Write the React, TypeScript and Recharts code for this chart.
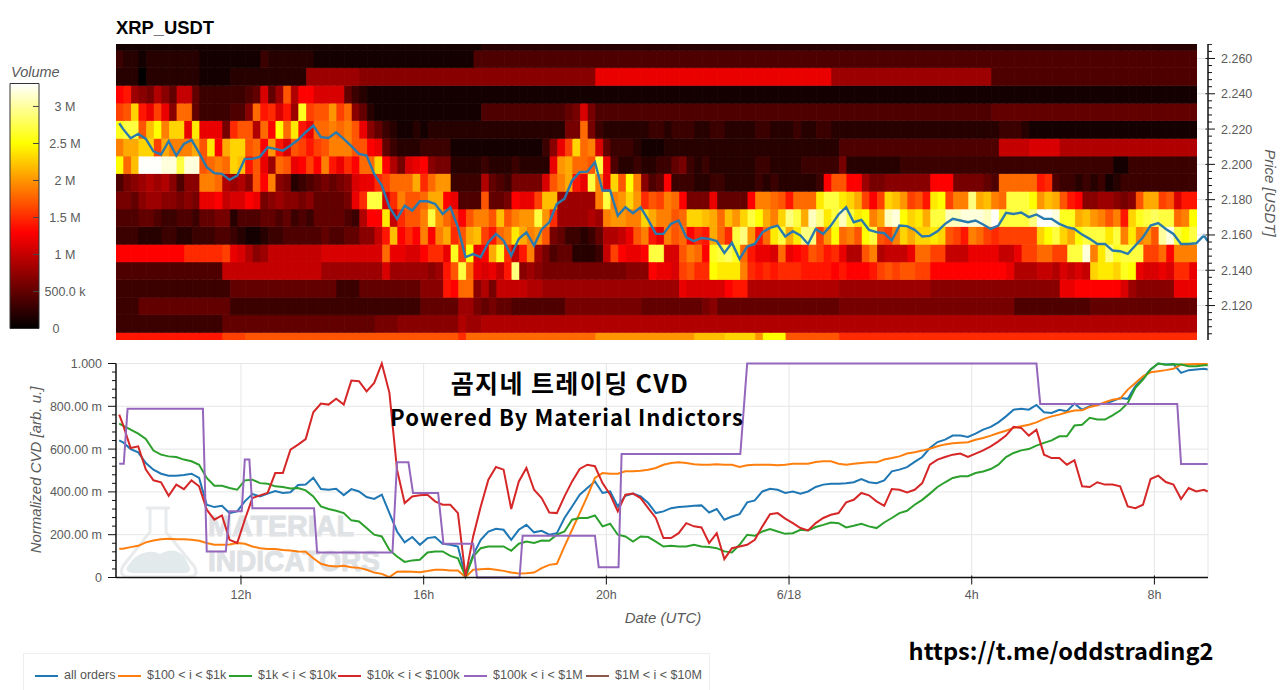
import { Bar, BarChart, CartesianGrid, Line, LineChart, XAxis, YAxis } from "recharts";

const AXIS_FONT = "'Liberation Sans', Arial, sans-serif";
const CJK_FONT = "'Noto Sans CJK KR', 'Noto Sans', sans-serif";
const AXIS_TEXT = "#5a5a5a";

// minutes since 00:00 on 6/17, grid of the CVD and price readings
const sampleTimes = [560, ...Array.from({ length: 143 }, (_, k) => 565 + k * 10), 1990];

const priceValues = [
  2.2233, 2.2201, 2.2148, 2.2173, 2.2144, 2.2074, 2.2056, 2.2131, 2.205, 2.2116, 2.2139, 2.2065, 2.1984, 2.195, 2.1946, 2.1912, 2.1936, 2.2031, 2.2031, 2.2044,
  2.2097, 2.2088, 2.2078, 2.2107, 2.2139, 2.2182, 2.222, 2.2154, 2.215, 2.2182, 2.2144, 2.2103, 2.2059, 2.205, 2.1946, 2.188, 2.1757, 2.1691, 2.1766, 2.1738,
  2.1791, 2.1791, 2.1776, 2.1719, 2.1757, 2.1644, 2.1474, 2.1492, 2.1474, 2.1559, 2.1606, 2.1568, 2.1483, 2.1578, 2.1615, 2.154, 2.1631, 2.1672, 2.1776, 2.1805,
  2.1909, 2.1956, 2.1959, 2.2012, 2.1852, 2.1852, 2.171, 2.1757, 2.1723, 2.1757, 2.1685, 2.1606, 2.1606, 2.1663, 2.1682, 2.1587, 2.1565, 2.1583, 2.1578, 2.1565,
  2.1498, 2.1555, 2.1464, 2.1534, 2.1549, 2.1615, 2.164, 2.1653, 2.1591, 2.1621, 2.1597, 2.1549, 2.1634, 2.1606, 2.1653, 2.1716, 2.1757, 2.1672, 2.1686, 2.1629,
  2.1616, 2.161, 2.1568, 2.1653, 2.165, 2.1629, 2.1591, 2.1595, 2.1621, 2.1663, 2.1691, 2.1682, 2.1672, 2.1682, 2.1659, 2.1634, 2.1653, 2.1725, 2.1719, 2.1727,
  2.1701, 2.1716, 2.1691, 2.1691, 2.1663, 2.1644, 2.1634, 2.1602, 2.1578, 2.1549, 2.1549, 2.1512, 2.1508, 2.1493, 2.154, 2.1587, 2.1653, 2.1667, 2.1634, 2.1606,
  2.1549, 2.1549, 2.1553, 2.1597, 2.1565,
];

const allOrders = [
  641, 632, 600, 585, 535, 504, 485, 476, 476, 479, 485, 465, 340, 329, 335, 301, 309, 356, 390, 379, 392, 404, 395, 398, 432, 435, 466, 413, 410, 415, 385, 413, 402, 376, 367, 387, 301, 215, 164, 189, 153, 184, 189,
  158, 153, 145, 5, 106, 176, 215, 228, 223, 176, 223, 246, 211, 218, 200, 207, 278, 332, 387, 418, 449, 395, 402, 332, 382, 392, 379, 348, 301, 309, 324, 329, 332, 335, 337, 304, 320, 270, 285, 296, 351, 360, 402, 415, 410, 395, 402, 392, 402, 423, 434, 438, 438,
  440, 445, 460, 445, 441, 454, 496, 504, 516, 540, 563, 605, 633, 644, 663, 663, 657, 672, 691, 704, 725, 753, 784, 789, 784, 806, 772, 769, 784, 777, 813, 784, 800, 808, 813, 824, 839, 835, 894, 933, 972, 1000, 995, 997, 956, 969, 972, 975, 972,
];
const orders100To1k = [
  134, 134, 142, 148, 164, 173, 179, 181, 179, 179, 176, 172, 161, 153, 153, 154, 161, 158, 145, 137, 133, 133, 129, 126, 122, 120, 90, 64, 55, 51, 55, 48, 45, 36, 23, 17, 2, 27, 28, 27, 25, 30, 36,
  36, 33, 33, 2, 36, 39, 41, 36, 31, 23, 19, 20, 23, 44, 59, 64, 145, 223, 301, 379, 465, 488, 485, 485, 496, 496, 499, 504, 512, 527, 535, 538, 535, 529, 527, 527, 529, 527, 527, 516, 524, 527, 527, 527, 524, 527, 532, 532, 532, 540, 543, 543, 532,
  527, 532, 535, 538, 538, 551, 558, 566, 579, 585, 593, 602, 613, 622, 627, 630, 632, 644, 652, 663, 675, 686, 699, 707, 714, 725, 741, 753, 761, 772, 780, 781, 797, 805, 819, 831, 836, 878, 909, 940, 959, 964, 969, 975, 995, 997, 998, 998, 998,
];
const orders1kTo10k = [
  719, 710, 691, 672, 647, 593, 574, 566, 563, 551, 543, 527, 465, 429, 429, 418, 410, 454, 457, 441, 438, 426, 423, 416, 418, 407, 379, 332, 320, 312, 301, 267, 262, 231, 200, 192, 129, 98, 73, 80, 83, 117, 122,
  122, 101, 90, 5, 98, 137, 145, 145, 145, 125, 158, 168, 161, 173, 172, 200, 215, 270, 278, 278, 290, 239, 251, 200, 192, 168, 192, 189, 168, 145, 148, 145, 145, 153, 145, 142, 137, 122, 117, 153, 200, 195, 215, 226, 215, 204, 207, 223, 220, 236, 246, 257, 254,
  234, 242, 251, 239, 231, 257, 278, 301, 312, 340, 363, 392, 423, 445, 465, 473, 473, 488, 495, 507, 527, 563, 582, 594, 600, 616, 629, 641, 660, 660, 710, 714, 746, 738, 738, 758, 780, 816, 886, 925, 972, 1000, 994, 997, 995, 987, 987, 992, 992,
];
const orders10kTo100k = [
  761, 714, 605, 613, 504, 454, 445, 382, 434, 413, 454, 426, 317, 270, 290, 176, 161, 270, 371, 384, 395, 488, 488, 597, 621, 647, 772, 813, 808, 835, 808, 920, 917, 870, 909, 1000, 863, 504, 348, 379, 384, 387, 356,
  340, 340, 301, 5, 192, 332, 457, 516, 504, 320, 449, 512, 410, 371, 304, 301, 379, 449, 507, 527, 520, 441, 387, 309, 387, 392, 371, 324, 278, 184, 184, 207, 254, 239, 234, 161, 207, 86, 137, 145, 153, 176, 239, 296, 301, 275, 254, 231, 220, 254, 278, 293, 301,
  351, 363, 395, 384, 356, 335, 413, 410, 398, 410, 441, 527, 551, 563, 574, 579, 563, 579, 594, 613, 636, 663, 704, 699, 663, 691, 574, 558, 558, 527, 548, 426, 423, 445, 434, 434, 426, 332, 324, 340, 460, 476, 446, 434, 367, 418, 402, 410, 402,
];

// the $100k-$1M series is a step line, it has its own break points
const stepTimes = [560, 566, 571, 670, 675, 700, 705, 721, 725, 731, 735, 816, 820, 919, 925, 940, 946, 979, 986, 1025, 1030, 1086, 1090, 1185, 1190, 1216, 1220, 1376, 1385, 1765, 1770, 1950, 1955, 1990];
const stepValues = [532, 532, 788, 788, 122, 122, 309, 309, 551, 551, 324, 324, 117, 117, 538, 538, 395, 395, 158, 158, 0, 0, 195, 195, 48, 48, 577, 577, 1000, 1000, 811, 811, 530, 530];

const seriesNames = ["all orders", "$100 < i < $1k", "$1k < i < $10k", "$10k < i < $100k", "$100k < i < $1M", "$1M < i < $10M"];
const seriesColors = ["#1f77b4", "#ff7f0e", "#2ca02c", "#d62728", "#9467bd", "#8c564b"];

const toPoints = (times: number[], values: number[]) => times.map((t, i) => ({ t, v: values[i] }));
const cvdSeries = [
  toPoints(sampleTimes, allOrders),
  toPoints(sampleTimes, orders100To1k),
  toPoints(sampleTimes, orders1kTo10k),
  toPoints(sampleTimes, orders10kTo100k),
  toPoints(stepTimes, stepValues),
  [] as { t: number; v: number }[],
];

// heatmap volume, one string per price row from the top, one base-36 digit per
// 10 minute column, in units of 100 k
const volumeRows = [
  "1111111111 1111111111 1111111111 1111111111 1111111122 2222222222 2222222222 2222222222 2222222222 2222222222 2222222222 2222222222 2222222222 2222222222 22",
  "3221222222 2111111113 2222221111 1111111111 1111111444 4444444444 4444444444 4444444444 4444444444 4444444444 4444444444 4444444444 4444444444 4444444444 44",
  "2220222222 2111122222 2222288888 8877777777 7777777777 7777777777 777ccccccc cccccccccc cccccccccc cccc888888 8888888888 8888844444 4444444444 4444444444 44",
  "de876975aa 533333345b 58h9ddbbbb 5321111111 1111111111 1111111111 1111111111 1111111111 1111111111 1111111111 1111111111 1111111111 1111111111 1111111111 11",
  "ghnecgc7ii 53333447ie fbe8qghhkg i752111111 1111111144 4444444445 6b64444444 4444444444 4444444444 4444444444 4444444444 4444455555 5555555555 5555555555 55",
  "qrrhmpjnnc occc6fhh9i dpioeciiji jhc7532112 1222222222 2222222226 6i63222222 3323332233 2222332223 2233222222 2222222222 2222223332 1111111111 1111111111 11",
  "jllnngljjj lhodlnnhid kebhgeghjj jhhdc53222 3333111111 11111137cg nijb533321 1122222222 2222222222 2222244444 4444444444 444444aaaa bbbb999999 9999999999 99",
  "pimxxxwwrw whijinmehc 8ihcdgdjec fdiind96bc d766222232 2232222ckl iihrc42232 2335632322 2222332222 3333362222 2223333333 3333333333 3333333333 3113333333 33",
  "4678989747 7jji9897hd j762345656 7bccfgiiil fikk333395 436666bhjl ecrjcnhpj7 45d3332233 2222323222 223dhhdd86 6777777ddd 666654iiii ief4332323 1233333333 33",
  "6657887767 6ccdabbdc6 7877675555 6cfrrbfjhh illdc444h5 56dccgmm88 888jrjknkf hgjid666c5 555djjihei iiorronlgd gnmkgheopg jjtlmjirrr pkmlhed778 8767hllghb ee",
  "4445543344 3556624445 5453435555 439ddoafhh jrkigdhjjh mhjkkrkf88 8898jkkjjn ljjhinnmli mknrpljntr lvtorvropj lvwpnolrrv vwwwvxrrrr txxwqqlmkj hjenqrsrri jp",
  "3332223322 3334432112 3344444544 5577aemdfd jdjlfhlmge ijoljkh653 323599achj ecjhidfeli frtkeiorlo ttgkpijhpr hgjnlnnonh gejigfgggg gnprnlprrr orjojkhuwr pr",
  "dddddddddf ffffgcb978 aaaaaaabbb bbbbbiccbb dffcqgpcdl qfaej86455 2223agdccd rrbbhjidqr sqieccbicd ehgefc99hj 9aaaciigga aaccccaacg giiggrrwjo tqrrrggidj jj",
  "4444444444 4444aaaaaa aaaaaaa888 88888b8888 878ehricbc aet7876666 6666666777 dccbghffpo oojfefefff eeeededdde ghghhggddd dddddddc99 9aa9babano onqpcbbcbf fc",
  "3333333333 3333355555 5555555553 3355555555 777edii796 aaaa998888 8888888888 8888cbbbbb dee9999999 9999988888 8888888777 7777777777 7777ccdddd ddb877777c cc",
  "3335555555 5555533333 3333333333 3333333333 5555588656 5544444446 6666666665 5555555675 5555555555 5555566666 6666666666 6666666644 4444444455 5555555555 55",
  "3333333333 3333555555 5555555555 5555666777 7777798899 9999999999 9999999999 9999999999 9999999999 9999999999 9999999999 9999999999 9999999999 9999999999 99",
  "eeeeeeeeee eeeeggghhh hhhhhhhhhh hhhhhhhhhh hhhhhfiiii iiiiiiiiii iiikkkkkkk kkkkkkmmmm nnnnkppphh hhhhhfffff ffffffffff ffffffffff ffffffffff ffffffffff ff",
];
// top edge of each row and the bottom edge of the last, in USDT
const rowEdges = [2.2682, 2.2647, 2.2547, 2.2447, 2.2347, 2.2247, 2.2147, 2.2047, 2.1947, 2.1847, 2.1747, 2.1647, 2.1547, 2.1447, 2.1347, 2.1247, 2.1147, 2.1047, 2.1002];

const volumeStops: [number, number[]][] = [
  [0, [0, 0, 0]],
  [1.3, [255, 0, 0]],
  [2.5, [255, 255, 0]],
  [3.31, [255, 255, 255]],
];

function volumeColor(v: number) {
  for (let i = 1; i < volumeStops.length; i++) {
    const [hi, b] = volumeStops[i];
    const [lo, a] = volumeStops[i - 1];
    if (v <= hi) {
      const f = (v - lo) / (hi - lo);
      return `rgb(${a.map((c, j) => Math.round(c + (b[j] - c) * f)).join(",")})`;
    }
  }
  return "#ffffff";
}

const volumes = volumeRows.map((row) =>
  row.replace(/ /g, "").split("").map((ch) => parseInt(ch, 36) / 10)
);
const heatmapData = volumes[0].map((_, col) => {
  const entry: Record<string, number> = { col };
  volumes.forEach((_, r) => {
    entry[`r${r}`] = rowEdges[r] - rowEdges[r + 1];
  });
  return entry;
});
const heatmapHeight = rowEdges[0] - rowEdges[rowEdges.length - 1];

const priceTicks = Array.from({ length: 42 }, (_, i) => Number((2.104 + i * 0.004).toFixed(3)));
const cvdTicks = Array.from({ length: 26 }, (_, i) => i * 40);
const timeTicks = [720, 960, 1200, 1440, 1680, 1920];
const timeLabels = ["12h", "16h", "20h", "6/18", "4h", "8h"];
const volumeTicks = [0, 0.5, 1, 1.5, 2, 2.5, 3];
const volumeLabels = ["0", "500.0 k", "1 M", "1.5 M", "2 M", "2.5 M", "3 M"];
const cvdLabel = (v: number) => (v === 0 ? "0" : v === 1000 ? "1.000" : `${v}.00 m`);

function Heatmap() {
  return (
    <BarChart width={1081} height={296.5} data={heatmapData} margin={{ top: 0, right: 0, bottom: 0, left: 0 }} barCategoryGap={0} barGap={0}>
      <XAxis dataKey="col" hide />
      <YAxis hide domain={[0, heatmapHeight]} />
      {[...volumes.keys()].reverse().map((r) => (
        <Bar
          key={r}
          dataKey={`r${r}`}
          stackId="rows"
          isAnimationActive={false}
          shape={(p: any) => {
            const fill = volumeColor(volumes[r][p.index]);
            return <rect x={p.x} y={p.y} width={p.width} height={p.height} fill={fill} stroke={fill} strokeWidth={0.5} />;
          }}
        />
      ))}
    </BarChart>
  );
}

function PriceOverlay() {
  return (
    <LineChart
      width={1280}
      height={296.5}
      data={toPoints(sampleTimes, priceValues)}
      margin={{ top: 0, right: 12, bottom: 0, left: 116 }}
    >
      <XAxis dataKey="t" type="number" domain={[555.8, 1990.4]} hide />
      <YAxis
        orientation="right"
        width={60}
        domain={[2.1002, 2.2682]}
        ticks={priceTicks}
        interval={0}
        tickLine={false}
        tickSize={0}
        tickMargin={0}
        axisLine={{ stroke: "#111", strokeWidth: 1.5 }}
        tick={(p: any) => {
          const major = Math.round(p.payload.value * 1000) % 20 === 0;
          return (
            <g>
              {major && <line x1={1197} x2={1208} y1={p.y} y2={p.y} stroke="#e2e2e2" />}
              <line x1={major ? 1205.5 : 1208} x2={major ? 1215 : 1212} y1={p.y} y2={p.y} stroke="#111" />
              {major && (
                <text x={1221} y={p.y + 4.5} fontSize={12.5} fontFamily={AXIS_FONT} fill={AXIS_TEXT}>
                  {p.payload.value.toFixed(3)}
                </text>
              )}
            </g>
          );
        }}
      />
      <Line dataKey="v" stroke="#2a7aad" strokeWidth={2.4} dot={false} isAnimationActive={false} />
    </LineChart>
  );
}

function ColorBar() {
  return (
    <BarChart width={100} height={270} data={[{ name: "Volume", v: 3.31 }]} margin={{ top: 13.5, right: 0, bottom: 11.5, left: 10 }} barCategoryGap={0}>
      <defs>
        <linearGradient id="volumeGradient" x1="0" y1="1" x2="0" y2="0">
          {volumeStops.map(([v]) => (
            <stop key={v} offset={v / 3.31} stopColor={volumeColor(v)} />
          ))}
        </linearGradient>
      </defs>
      <XAxis dataKey="name" hide />
      <YAxis
        orientation="right"
        width={61}
        domain={[0, 3.31]}
        ticks={volumeTicks}
        interval={0}
        tickLine={false}
        axisLine={false}
        tickSize={0}
        tickMargin={0}
        tick={(p: any) => {
          const i = volumeTicks.indexOf(p.payload.value);
          return (
            <g>
              {i > 0 && <line x1={33} x2={39} y1={p.y} y2={p.y} stroke="#444" />}
              <text x={i === 0 ? 56 : 65} y={p.y + 4.5} textAnchor="middle" fontSize={12.5} fontFamily={AXIS_FONT} fill={AXIS_TEXT}>
                {volumeLabels[i]}
              </text>
            </g>
          );
        }}
      />
      <Bar dataKey="v" fill="url(#volumeGradient)" stroke="#333" strokeWidth={1} isAnimationActive={false} />
    </BarChart>
  );
}

function CvdChart() {
  return (
    <LineChart width={1280} height={300} margin={{ top: 19.5, right: 72, bottom: 26.5, left: 16 }}>
      <CartesianGrid
        stroke="#e6e6e6"
        strokeWidth={1}
        horizontalValues={[200, 400, 600, 800, 1000]}
        verticalValues={[...timeTicks, 1990.4]}
      />
      <XAxis
        dataKey="t"
        type="number"
        domain={[555.8, 1990.4]}
        ticks={timeTicks}
        interval={0}
        height={40}
        tickLine={false}
        tickSize={0}
        tickMargin={0}
        axisLine={{ stroke: "#111", strokeWidth: 1.5 }}
        tick={(p: any) => (
          <g>
            <line x1={p.x} x2={p.x} y1={575.5 - 344} y2={584.5 - 344} stroke="#111" />
            <text x={p.x} y={599 - 344} textAnchor="middle" fontSize={12.5} fontFamily={AXIS_FONT} fill={AXIS_TEXT}>
              {timeLabels[timeTicks.indexOf(p.payload.value)]}
            </text>
          </g>
        )}
      />
      <YAxis
        dataKey="v"
        width={100}
        domain={[0, 1000]}
        ticks={cvdTicks}
        interval={0}
        tickLine={false}
        tickSize={0}
        tickMargin={0}
        axisLine={{ stroke: "#111", strokeWidth: 1.5 }}
        tick={(p: any) => {
          const major = p.payload.value % 200 === 0;
          return (
            <g>
              <line x1={major ? 108 : 112} x2={116} y1={p.y} y2={p.y} stroke="#111" />
              {major && (
                <text x={102} y={p.y + 4.5} textAnchor="end" fontSize={12.5} fontFamily={AXIS_FONT} fill={AXIS_TEXT}>
                  {cvdLabel(p.payload.value)}
                </text>
              )}
            </g>
          );
        }}
      />
      {cvdSeries.map((points, i) => (
        <Line
          key={seriesNames[i]}
          data={points}
          dataKey="v"
          name={seriesNames[i]}
          stroke={seriesColors[i]}
          strokeWidth={2}
          dot={false}
          isAnimationActive={false}
        />
      ))}
    </LineChart>
  );
}

function Watermark() {
  return (
    <svg width={300} height={90} style={{ position: "absolute", left: 110, top: 500 }}>
      <path d="M36 8 H60 M40 8 V32 L13 66 Q8 77 20 77 H78 Q90 77 84 66 L56 32 V8" fill="none" stroke="#e8eaec" strokeWidth={3} />
      <path d="M24 58 Q38 48 50 54 Q64 46 74 56 L80 68 Q81 73 74 73 H24 Q15 73 17 67 Z" fill="#e2eaec" />
      <text x={98} y={36} fontSize={30} fontWeight={700} fontFamily={AXIS_FONT} fill="#dfe2e5" stroke="#dfe2e5" strokeWidth={1} textLength={146} lengthAdjust="spacingAndGlyphs">
        MATERIAL
      </text>
      <text x={98} y={71} fontSize={30} fontWeight={700} fontFamily={AXIS_FONT} fill="#dfe2e5" stroke="#dfe2e5" strokeWidth={1} textLength={172} lengthAdjust="spacingAndGlyphs">
        INDICATORS
      </text>
    </svg>
  );
}

const legendSwatchX = [35, 118, 229, 338, 464, 586];

function CvdLegend() {
  return (
    <div style={{ position: "absolute", left: 23, top: 653, width: 687, height: 40, border: "1px solid #eeeeee", boxSizing: "border-box" }}>
      {seriesNames.map((name, i) => (
        <div key={name} style={{ position: "absolute", left: legendSwatchX[i] - 24, top: 14, whiteSpace: "nowrap", font: `12.5px ${AXIS_FONT}`, color: "#555" }}>
          <span style={{ display: "inline-block", width: 23, height: 2.4, background: seriesColors[i], verticalAlign: "middle", marginRight: 6 }} />
          {name}
        </div>
      ))}
    </div>
  );
}

const textAt = (left: number, top: number, extra: React.CSSProperties): React.CSSProperties => ({
  position: "absolute",
  left,
  top,
  whiteSpace: "nowrap",
  ...extra,
});

export default function App() {
  return (
    <div style={{ position: "absolute", left: 0, top: 0, width: 1280, height: 690, overflow: "hidden", background: "#fff" }}>
      <div style={textAt(116, 17, { font: `700 18.4px ${AXIS_FONT}`, color: "#000" })}>XRP_USDT</div>
      <div style={textAt(11, 64, { font: `italic 14.5px ${AXIS_FONT}`, color: AXIS_TEXT })}>Volume</div>
      <div style={{ position: "absolute", left: 0, top: 70 }}>
        <ColorBar />
      </div>
      <div style={{ position: "absolute", left: 116, top: 43.5 }}>
        <Heatmap />
      </div>
      <div style={{ position: "absolute", left: 0, top: 43.5 }}>
        <PriceOverlay />
      </div>
      <div style={{ ...textAt(1270, 193, { font: `italic 15px ${AXIS_FONT}`, color: AXIS_TEXT }), transform: "translate(-50%,-50%) rotate(90deg)" }}>Price [USDT]</div>

      <Watermark />
      <div style={{ position: "absolute", left: 0, top: 344 }}>
        <CvdChart />
      </div>
      <div style={{ ...textAt(35, 470, { font: `italic 15px ${AXIS_FONT}`, color: AXIS_TEXT }), transform: "translate(-50%,-50%) rotate(-90deg)" }}>Normalized CVD [arb. u.]</div>
      <div style={{ ...textAt(663, 617, { font: `italic 15px ${AXIS_FONT}`, color: AXIS_TEXT }), transform: "translate(-50%,-50%)" }}>Date (UTC)</div>

      <div style={{ ...textAt(570, 382, { font: `700 25px ${CJK_FONT}`, color: "#000", letterSpacing: 1.4 }), transform: "translate(-50%,-50%)" }}>곰지네 트레이딩 CVD</div>
      <div style={{ ...textAt(567, 415.5, { font: `700 22px ${CJK_FONT}`, color: "#000", letterSpacing: 1.05 }), transform: "translate(-50%,-50%)" }}>Powered By Material Indictors</div>
      <div style={{ ...textAt(1061, 650, { font: `700 23.6px ${CJK_FONT}`, color: "#000" }), transform: "translate(-50%,-50%)" }}>https://t.me/oddstrading2</div>

      <CvdLegend />
    </div>
  );
}
